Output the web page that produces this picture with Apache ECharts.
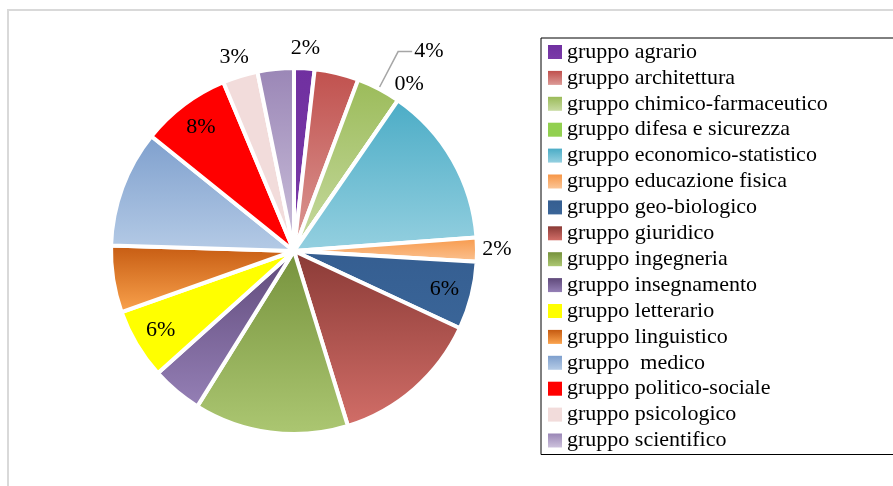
<!DOCTYPE html>
<html>
<head>
<meta charset="utf-8">
<script src="https://cdn.jsdelivr.net/npm/echarts@6/dist/echarts.min.js"></script>
<style>
  html, body { margin: 0; padding: 0; background: #ffffff; }
  #chart { width: 893px; height: 486px; }
</style>
</head>
<body>
<div id="chart"></div>
<script>
// Share of enrolments by degree group (percent)
const categories = [
  'gruppo agrario',
  'gruppo architettura',
  'gruppo chimico-farmaceutico',
  'gruppo difesa e sicurezza',
  'gruppo economico-statistico',
  'gruppo educazione fisica',
  'gruppo geo-biologico',
  'gruppo giuridico',
  'gruppo ingegneria',
  'gruppo insegnamento',
  'gruppo letterario',
  'gruppo linguistico',
  'gruppo  medico',
  'gruppo politico-sociale',
  'gruppo psicologico',
  'gruppo scientifico'
];
const shares = [1.8, 3.9, 3.9, 0, 14.2, 2.1, 6.0, 13.3, 13.6, 4.5, 6.2, 5.9, 10.3, 7.9, 3.1, 3.2];

// Groups whose percentage is printed, and where
const labelOutside = ['gruppo agrario', 'gruppo difesa e sicurezza', 'gruppo educazione fisica', 'gruppo psicologico'];
const labelInside = ['gruppo geo-biologico', 'gruppo letterario', 'gruppo politico-sociale'];
const labelLeader = ['gruppo chimico-farmaceutico'];

// Fill colours: [top, bottom] of a vertical gradient per slice
const fills = [
  ['#7030a0', '#7a3aa8'],
  ['#c0504d', '#dc9a96'],
  ['#9bbb59', '#c8dba2'],
  ['#92d050', '#92d050'],
  ['#4bacc6', '#95d0e0'],
  ['#f79646', '#fbc596'],
  ['#355e91', '#3a6598'],
  ['#8a3a36', '#d26e68'],
  ['#76923c', '#acc772'],
  ['#5f497a', '#9580b6'],
  ['#ffff00', '#ffff00'],
  ['#c55a11', '#fba44e'],
  ['#7e9fcd', '#b5cbe6'],
  ['#ff0000', '#ff0000'],
  ['#f2dcdb', '#f2dcdb'],
  ['#9a86b6', '#cdc2dc']
];

const serif = '"Liberation Serif", "DejaVu Serif", serif';
const CENTER = [294, 251];
const R = 183;

function grad(c) {
  return new echarts.graphic.LinearGradient(0, 0, 0, 1, [
    { offset: 0, color: c[0] },
    { offset: 1, color: c[1] }
  ]);
}

const pct = p => Math.round(p.percent) + '%';

const mainData = categories.map((name, i) => {
  const lead = labelLeader.includes(name);
  return {
    name: name,
    value: shares[i],
    itemStyle: { color: grad(fills[i]) },
    label: { show: lead },
    labelLine: { show: lead }
  };
});

// Transparent rings used only to place the printed percentages at a chosen radius
function ringData(list) {
  return categories.map((name, i) => ({
    name: name,
    value: shares[i],
    label: { show: list.includes(name) }
  }));
}

const ringBase = {
  type: 'pie',
  center: CENTER,
  startAngle: 90,
  clockwise: true,
  silent: true,
  avoidLabelOverlap: false,
  itemStyle: { color: 'rgba(0,0,0,0)', borderWidth: 0 },
  emphasis: { disabled: true },
  labelLine: { show: false },
  label: {
    position: 'inside',
    formatter: pct,
    color: '#000',
    fontFamily: serif,
    fontSize: 22
  }
};

const option = {
  animation: false,
  backgroundColor: '#ffffff',
  graphic: [{
    type: 'rect',
    shape: { x: 8, y: 10, width: 900, height: 490 },
    style: { fill: 'none', stroke: '#d9d9d9', lineWidth: 2 },
    silent: true,
    z: -1
  }],
  legend: {
    orient: 'vertical',
    left: 541,
    top: 38,
    height: 440,
    itemWidth: 14,
    itemHeight: 14,
    itemGap: 3.9,
    padding: [3, 120, 3, 7],
    borderColor: '#000',
    borderWidth: 1,
    icon: 'rect',
    selectedMode: false,
    data: categories,
    textStyle: {
      fontFamily: serif,
      fontSize: 22,
      lineHeight: 22,
      color: '#000',
      padding: [0, 0, 0, 0]
    },
    itemStyle: { borderWidth: 0 }
  },
  series: [
    {
      type: 'pie',
      name: 'quota',
      center: CENTER,
      radius: [0, R],
      startAngle: 90,
      clockwise: true,
      avoidLabelOverlap: false,
      silent: true,
      itemStyle: { borderColor: '#ffffff', borderWidth: 4 },
      label: {
        position: 'outside',
        formatter: pct,
        color: '#000',
        fontFamily: serif,
        fontSize: 22,
        distanceToLabelLine: 2
      },
      labelLine: {
        length: 42,
        length2: 14,
        smooth: false,
        lineStyle: { color: '#a6a6a6', width: 1.5 }
      },
      data: mainData
    },
    Object.assign({}, ringBase, { radius: [198, 202], data: ringData(labelOutside) }),
    Object.assign({}, ringBase, { radius: [150, 154], data: ringData(labelInside) })
  ]
};

const chart = echarts.init(document.getElementById('chart'), null, { renderer: 'canvas' });
chart.setOption(option);
</script>
</body>
</html>
